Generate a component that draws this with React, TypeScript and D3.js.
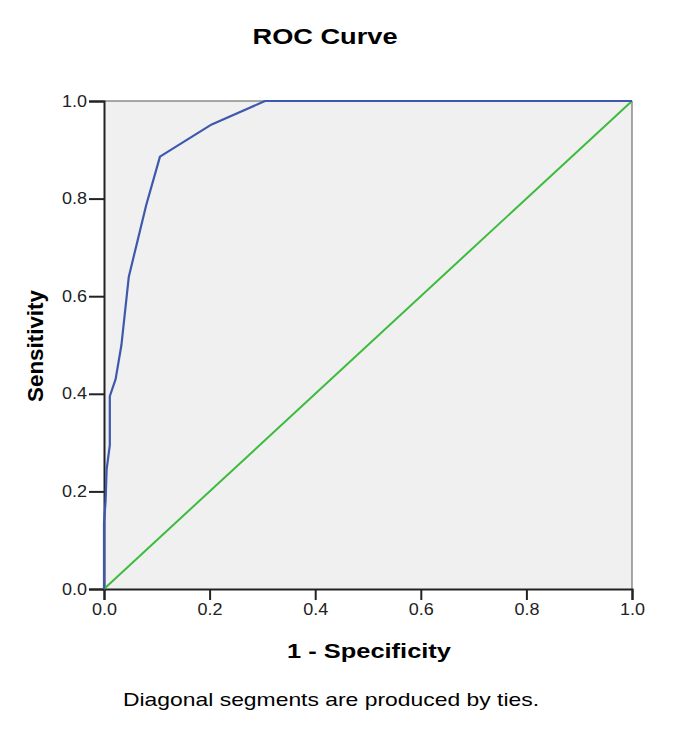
import React, { useEffect, useRef } from 'react';
import * as d3 from 'd3';

// ROC curve points: 1 - specificity / sensitivity
const fpr = [0, 0, 0.003, 0.005, 0.011, 0.011, 0.022, 0.033, 0.047, 0.08, 0.106, 0.204, 0.305, 1];
const tpr = [0, 0.135, 0.18, 0.245, 0.295, 0.395, 0.43, 0.5, 0.64, 0.787, 0.886, 0.952, 1, 1];
const refLine = [0, 1];
const ticks = [0, 0.2, 0.4, 0.6, 0.8, 1.0];

const App = () => {
  const svgRef = useRef(null);

  useEffect(() => {
    const W = 685;
    const H = 745;
    const margin = { top: 101, right: 53, bottom: 156, left: 104 };
    const width = W - margin.left - margin.right;
    const height = H - margin.top - margin.bottom;
    const font = 'Arial, "Liberation Sans", sans-serif';

    const root = d3.select(svgRef.current).attr('width', W).attr('height', H);
    root.selectAll('*').remove();

    // the source image is a little wider than tall, so stretch text horizontally
    root
      .append('text')
      .attr('x', 325)
      .attr('y', 44)
      .attr('text-anchor', 'middle')
      .attr('textLength', 145)
      .attr('lengthAdjust', 'spacingAndGlyphs')
      .style('font-family', font)
      .style('font-weight', 'bold')
      .style('font-size', '22px')
      .text('ROC Curve');

    const svg = root.append('g').attr('transform', `translate(${margin.left}, ${margin.top})`);

    const x = d3.scaleLinear().domain([0, 1]).range([0, width]);
    const y = d3.scaleLinear().domain([0, 1]).range([height, 0]);

    // plot background and frame
    svg.append('rect').attr('width', width).attr('height', height).attr('fill', '#f0f0f0');
    svg
      .append('path')
      .attr('d', `M0,0H${width}V${height}`)
      .attr('fill', 'none')
      .attr('stroke', '#555')
      .attr('stroke-width', 1);

    const xAxis = svg
      .append('g')
      .attr('transform', `translate(0, ${height})`)
      .call(d3.axisBottom(x).tickValues(ticks).tickFormat(d3.format('.1f')).tickSize(11).tickPadding(4));
    const yAxis = svg
      .append('g')
      .call(d3.axisLeft(y).tickValues(ticks).tickFormat(d3.format('.1f')).tickSize(15).tickPadding(2));

    [xAxis, yAxis].forEach((ax) => {
      ax.select('.domain').attr('stroke', '#222').attr('stroke-width', 2);
      ax.selectAll('.tick line').attr('stroke', '#222').attr('stroke-width', 2);
      ax.selectAll('.tick text')
        .attr('textLength', 25)
        .attr('lengthAdjust', 'spacingAndGlyphs')
        .style('font-family', font)
        .style('font-size', '16px')
        .attr('fill', '#222');
    });

    // diagonal reference line
    svg
      .append('path')
      .datum(refLine)
      .attr('d', d3.line<number>().x((d) => x(d)).y((d) => y(d)))
      .attr('fill', 'none')
      .attr('stroke', '#3dbb3d')
      .attr('stroke-width', 2);

    // ROC curve
    const pts = fpr.map((v, i) => [v, tpr[i]]);
    svg
      .append('path')
      .datum(pts)
      .attr('d', d3.line().x((d) => x(d[0])).y((d) => y(d[1])))
      .attr('fill', 'none')
      .attr('stroke', '#3e58ad')
      .attr('stroke-width', 2.2)
      .attr('stroke-linejoin', 'round');

    root
      .append('text')
      .attr('x', 369)
      .attr('y', 658)
      .attr('text-anchor', 'middle')
      .attr('textLength', 164)
      .attr('lengthAdjust', 'spacingAndGlyphs')
      .style('font-family', font)
      .style('font-weight', 'bold')
      .style('font-size', '21px')
      .text('1 - Specificity');

    root
      .append('text')
      .attr('transform', 'translate(43, 346) rotate(-90)')
      .attr('text-anchor', 'middle')
      .attr('textLength', 112)
      .attr('lengthAdjust', 'spacingAndGlyphs')
      .style('font-family', font)
      .style('font-weight', 'bold')
      .style('font-size', '22px')
      .text('Sensitivity');

    root
      .append('text')
      .attr('x', 331)
      .attr('y', 706)
      .attr('text-anchor', 'middle')
      .attr('textLength', 416)
      .attr('lengthAdjust', 'spacingAndGlyphs')
      .style('font-family', font)
      .style('font-size', '19px')
      .text('Diagonal segments are produced by ties.');
  }, []);

  return (
    <svg ref={svgRef} style={{ position: 'absolute', left: 0, top: 0, background: '#fff' }}></svg>
  );
};

export default App;
